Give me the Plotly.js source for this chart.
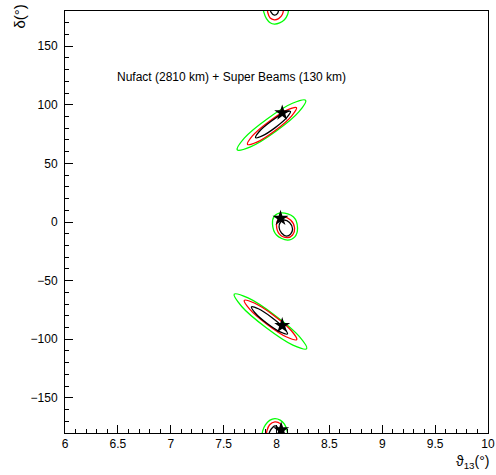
<!DOCTYPE html>
<html>
<head>
<meta charset="utf-8">
<script src="https://cdn.plot.ly/plotly-3.0.1.min.js"></script>
<style>html,body{margin:0;padding:0;background:#fff;}#chart{width:496px;height:475px;}</style>
</head>
<body>
<div id="chart"></div>
<script>
// ---- Data (theta13 in degrees, delta in degrees) ----
// Upper solution
const upperGreenX = [7.995, 7.754, 7.629, 7.695, 7.911, 8.151, 8.276, 8.211, 7.995];
const upperGreenY = [77.4, 64.1, 61.6, 71.5, 87.9, 101.3, 103.8, 93.9, 77.4];
const upperRedX = [7.988, 7.815, 7.726, 7.772, 7.927, 8.099, 8.189, 8.142, 7.988];
const upperRedY = [78.0, 68.1, 66.2, 73.4, 85.6, 95.5, 97.5, 90.3, 78.0];
const upperBlackX = [7.988, 7.865, 7.802, 7.835, 7.946, 8.069, 8.132, 8.099, 7.988];
const upperBlackY = [80.5, 73.4, 71.9, 77.0, 85.7, 92.9, 94.3, 89.2, 80.5];
// Middle solution
const midGreenX = [7.962, 7.981, 8.047, 8.161, 8.199, 8.171, 8.104, 8.000, 7.962];
const midGreenY = [-1.7, 5.1, 7.7, 4.3, -5.1, -12.9, -15.4, -11.1, -1.7];
const midRedX = [8.000, 8.019, 8.057, 8.133, 8.171, 8.152, 8.104, 8.028, 8.000];
const midRedY = [-2.6, 2.6, 4.3, 1.7, -5.1, -11.1, -13.3, -10.3, -2.6];
const midBlackX = [8.024, 8.038, 8.066, 8.123, 8.152, 8.133, 8.095, 8.047, 8.024];
const midBlackY = [-4.3, 0.0, 1.7, -0.4, -6.0, -10.3, -12.0, -9.4, -4.3];
// Lower solution
const lowerGreenX = [7.900, 7.671, 7.600, 7.731, 7.986, 8.215, 8.286, 8.155, 7.900];
const lowerGreenY = [-90.0, -72.1, -61.6, -64.8, -79.7, -97.6, -108.1, -105.0, -90.0];
const lowerRedX = [7.912, 7.746, 7.695, 7.790, 7.974, 8.141, 8.191, 8.096, 7.912];
const lowerRedY = [-87.4, -74.3, -66.8, -69.1, -79.7, -92.8, -100.3, -98.1, -87.4];
const lowerBlackX = [7.912, 7.798, 7.763, 7.828, 7.955, 8.069, 8.104, 8.040, 7.912];
const lowerBlackY = [-86.6, -77.6, -72.4, -74.0, -81.4, -90.3, -95.5, -94.0, -86.6];
// Solution wrapping around delta = +/-180
const topGreenX = [7.872, 7.880, 7.905, 7.940, 7.980, 8.030, 8.075, 8.105, 8.118];
const topGreenY = [184, 179, 173.5, 170, 168.8, 169.8, 172.5, 177, 184];
const topRedX = [7.912, 7.918, 7.940, 7.980, 8.020, 8.055, 8.070];
const topRedY = [184, 178.5, 174, 172.5, 173.5, 177, 184];
const topBlackX = [7.940, 7.948, 7.980, 8.010, 8.022];
const topBlackY = [183, 179, 176.5, 178, 183];
const botGreenX = [7.862, 7.870, 7.895, 7.935, 7.985, 8.035, 8.075, 8.100, 8.110];
const botGreenY = [-184, -178, -173, -169.2, -167.7, -169, -172.5, -178, -184];
const botRedX = [7.902, 7.910, 7.935, 7.985, 8.035, 8.060, 8.070];
const botRedY = [-184, -178, -173, -170.5, -172, -177, -184];
const botBlackX = [7.928, 7.935, 7.965, 7.990, 8.015, 8.025];
const botBlackY = [-183, -179, -175, -174, -176, -183];
// True / best-fit points (stars)
const starX = [8.054, 8.038, 8.054, 8.044];
const starY = [93.1, 3.2, -88.3, -177.4];

const xTickVals = [6, 6.5, 7, 7.5, 8, 8.5, 9, 9.5, 10];
const xTickText = ['6', '6.5', '7', '7.5', '8', '8.5', '9', '9.5', '10'];
const yTickVals = [-150, -100, -50, 0, 50, 100, 150];
const yTickText = ['\u2212150', '\u2212100', '\u221250', '0', '50', '100', '150'];
const labelText = 'Nufact (2810 km) + Super Beams (130 km)';

// ---- Traces ----
const GREEN = '#00ff00', RED = '#ff0000', BLACK = '#000000';
const contours = [
  [upperGreenX, upperGreenY, GREEN], [upperRedX, upperRedY, RED], [upperBlackX, upperBlackY, BLACK],
  [midGreenX, midGreenY, GREEN], [midRedX, midRedY, RED], [midBlackX, midBlackY, BLACK],
  [lowerGreenX, lowerGreenY, GREEN], [lowerRedX, lowerRedY, RED], [lowerBlackX, lowerBlackY, BLACK],
  [topGreenX, topGreenY, GREEN], [topRedX, topRedY, RED], [topBlackX, topBlackY, BLACK],
  [botGreenX, botGreenY, GREEN], [botRedX, botRedY, RED], [botBlackX, botBlackY, BLACK]
];
const traces = contours.map(c => ({
  x: c[0], y: c[1], type: 'scatter', mode: 'lines',
  line: {color: c[2], width: 1.3, shape: 'spline', smoothing: 1.0},
  hoverinfo: 'skip', showlegend: false
}));
traces.push({
  x: starX, y: starY, type: 'scatter', mode: 'markers',
  marker: {symbol: 'star', size: 12, color: BLACK, line: {width: 0}},
  showlegend: false, cliponaxis: true
});

const FONT = 'Liberation Sans, Arial, Helvetica, sans-serif';
const layout = {
  width: 496, height: 475,
  margin: {l: 65, r: 8, t: 11, b: 42, pad: 0},
  paper_bgcolor: '#ffffff', plot_bgcolor: '#ffffff',
  font: {family: FONT, size: 12, color: '#000'},
  showlegend: false,
  xaxis: {
    range: [6, 10], showgrid: false, zeroline: false,
    showline: true, linecolor: '#000', linewidth: 1, mirror: true,
    ticks: 'inside', ticklen: 8, tickwidth: 1, tickcolor: '#000',
    tickvals: xTickVals, ticktext: xTickText,
    tickfont: {family: FONT, size: 12, color: '#000'},
    minor: {dtick: 0.1, ticks: 'inside', ticklen: 4, tickwidth: 1, tickcolor: '#000', showgrid: false}
  },
  yaxis: {
    range: [-180, 180], showgrid: false, zeroline: false,
    showline: true, linecolor: '#000', linewidth: 1, mirror: true,
    ticks: 'inside', ticklen: 8, tickwidth: 1, tickcolor: '#000',
    tickvals: yTickVals, ticktext: yTickText,
    tickfont: {family: FONT, size: 12, color: '#000'},
    ticklabelstandoff: 4,
    minor: {dtick: 10, ticks: 'inside', ticklen: 4, tickwidth: 1, tickcolor: '#000', showgrid: false}
  },
  annotations: [
    {x: 6.47, y: 124, xref: 'x', yref: 'y', xanchor: 'left', yanchor: 'middle',
     text: labelText, showarrow: false, font: {family: FONT, size: 12, color: '#000'}},
    {x: 1, y: 0, xref: 'paper', yref: 'paper', xanchor: 'right', yanchor: 'top', yshift: -18, xshift: 4,
     text: '\u03D1<sub>13</sub>(\u00B0)', showarrow: false, font: {family: FONT, size: 14, color: '#000'}},
    {x: 0, y: 1, xref: 'paper', yref: 'paper', xanchor: 'right', yanchor: 'top', xshift: -36, yshift: 8,
     text: '\u03B4(\u00B0)', textangle: -90, showarrow: false, font: {family: FONT, size: 15, color: '#000'}}
  ]
};

Plotly.newPlot('chart', traces, layout, {staticPlot: true, displayModeBar: false});
</script>
</body>
</html>
